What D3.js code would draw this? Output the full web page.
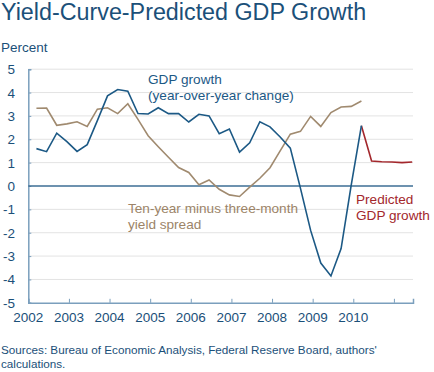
<!DOCTYPE html>
<html>
<head>
<meta charset="utf-8">
<script src="https://cdn.jsdelivr.net/npm/d3@7"></script>
<style>
  body { margin: 0; background: #fff; }
  text { font-family: "Liberation Sans", Arial, sans-serif; }
</style>
</head>
<body>
<div id="chart"></div>
<script>
var svgWidth = 434;
var svgHeight = 372;

// quarterly observations, 2002Q1 .. 2010Q1
var quarters = [];
for (var yr = 2002; yr <= 2010; yr++) {
  for (var q = 1; q <= 4; q++) {
    if (yr === 2010 && q > 1) break;
    quarters.push(yr + "Q" + q);
  }
}
var gdpGrowth = [1.6, 1.47, 2.26, 1.9, 1.48, 1.77, 2.8, 3.86, 4.13, 4.06, 3.1, 3.08,
  3.35, 3.1, 3.1, 2.74, 3.07, 3.0, 2.24, 2.44, 1.45, 1.85, 2.75, 2.53,
  2.1, 1.62, -0.1, -1.9, -3.3, -3.85, -2.68, 0.05, 2.58];
var yieldSpread = [3.33, 3.34, 2.6, 2.66, 2.75, 2.55, 3.29, 3.35, 3.1, 3.52, 2.85, 2.15,
  1.68, 1.23, 0.79, 0.58, 0.05, 0.26, -0.14, -0.38, -0.45, -0.05, 0.33, 0.78,
  1.5, 2.22, 2.34, 2.98, 2.55, 3.14, 3.38, 3.41, 3.64];

var predQuarters = ["2010Q1", "2010Q2", "2010Q3", "2010Q4", "2011Q1", "2011Q2"];
var predicted = [2.58, 1.07, 1.04, 1.03, 1.0, 1.03];

var yearTicks = [2002, 2003, 2004, 2005, 2006, 2007, 2008, 2009, 2010, 2011];
var yearLabels = ["2002", "2003", "2004", "2005", "2006", "2007", "2008", "2009", "2010", ""];
var yTicks = [-5, -4, -3, -2, -1, 0, 1, 2, 3, 4, 5];

// quarter label -> decimal year
function qTime(s) {
  var y = +s.slice(0, 4), q = +s.slice(5);
  return y + (q - 1) / 4 + 0.2;
}

var svg = d3.select("#chart").append("svg")
  .attr("width", svgWidth)
  .attr("height", svgHeight);

var x = d3.scaleLinear().domain([2002, 2011.47]).range([28.3, 413]);
var y = d3.scaleLinear().domain([-5, 5]).range([302.8, 69.2]);

// title + unit
svg.append("text").attr("x", 1).attr("y", 20)
  .style("font-size", "23.3px").attr("fill", "#1b5079")
  .text("Yield-Curve-Predicted GDP Growth");
svg.append("text").attr("x", 1).attr("y", 52)
  .style("font-size", "13.5px").attr("fill", "#1b5079")
  .text("Percent");

// gridlines
svg.append("g").selectAll("line")
  .data(yTicks.filter(d => d !== 0 && d !== -5))
  .enter().append("line")
  .attr("x1", x(2002)).attr("x2", x(2011.47))
  .attr("y1", d => y(d)).attr("y2", d => y(d))
  .attr("stroke", "#e3e3e3").attr("stroke-width", 1);

// y axis
var leftAxis = d3.axisRight(y).tickValues(yTicks).tickSize(3).tickFormat("");
var yAxis = svg.append("g").attr("transform", `translate(${x(2002)},0)`).call(leftAxis);
yAxis.select(".domain").attr("stroke", "#7b9fbd").attr("stroke-width", 1.5);
yAxis.selectAll(".tick line").attr("stroke", "#7b9fbd");

svg.append("g").selectAll("text")
  .data(yTicks).enter().append("text")
  .attr("x", 15).attr("y", d => y(d) + 5)
  .attr("text-anchor", "end")
  .style("font-size", "13.5px").attr("fill", "#1b5079")
  .text(d => d);

// x axis
var bottomAxis = d3.axisTop(x).tickValues(yearTicks).tickSize(4).tickFormat("");
var xAxis = svg.append("g").attr("transform", `translate(0,${y(-5)})`).call(bottomAxis);
xAxis.select(".domain").attr("stroke", "#7b9fbd").attr("stroke-width", 1.5);
xAxis.selectAll(".tick line").attr("stroke", "#7b9fbd");

svg.append("g").selectAll("text")
  .data(yearTicks).enter().append("text")
  .attr("x", d => x(d)).attr("y", 322)
  .attr("text-anchor", "middle")
  .style("font-size", "13.5px").attr("fill", "#1b5079")
  .text((d, i) => yearLabels[i]);

// zero line
svg.append("line")
  .attr("x1", x(2002)).attr("x2", x(2011.47))
  .attr("y1", y(0)).attr("y2", y(0))
  .attr("stroke", "#3d6e94").attr("stroke-width", 1.5);

var line = d3.line().x(d => x(d[0])).y(d => y(d[1]));

svg.append("path")
  .datum(quarters.map((q, i) => [qTime(q), yieldSpread[i]]))
  .attr("d", line).attr("fill", "none")
  .attr("stroke", "#a08a6f").attr("stroke-width", 1.6);

svg.append("path")
  .datum(predQuarters.map((q, i) => [qTime(q), predicted[i]]))
  .attr("d", line).attr("fill", "none")
  .attr("stroke", "#a3272c").attr("stroke-width", 1.6);

svg.append("path")
  .datum(quarters.map((q, i) => [qTime(q), gdpGrowth[i]]))
  .attr("d", line).attr("fill", "none")
  .attr("stroke", "#1c5985").attr("stroke-width", 1.6);

// series labels
function label(lines, lx, ly, color) {
  var t = svg.append("text").attr("x", lx).attr("y", ly)
    .style("font-size", "13.6px").attr("fill", color);
  lines.forEach(function(s, i) {
    t.append("tspan").attr("x", lx).attr("dy", i === 0 ? 0 : 16).text(s);
  });
}
label(["GDP growth", "(year-over-year change)"], 148, 84, "#1c5985");
label(["Ten-year minus three-month", "yield spread"], 128, 213, "#9c8468");
label(["Predicted", "GDP growth"], 356, 204, "#a3272c");

// source note
var src = svg.append("text").attr("x", 1).attr("y", 354)
  .style("font-size", "11.7px").attr("fill", "#1b5079");
src.append("tspan").attr("x", 1).text("Sources: Bureau of Economic Analysis, Federal Reserve Board, authors'");
src.append("tspan").attr("x", 1).attr("dy", 14).text("calculations.");
</script>
</body>
</html>
